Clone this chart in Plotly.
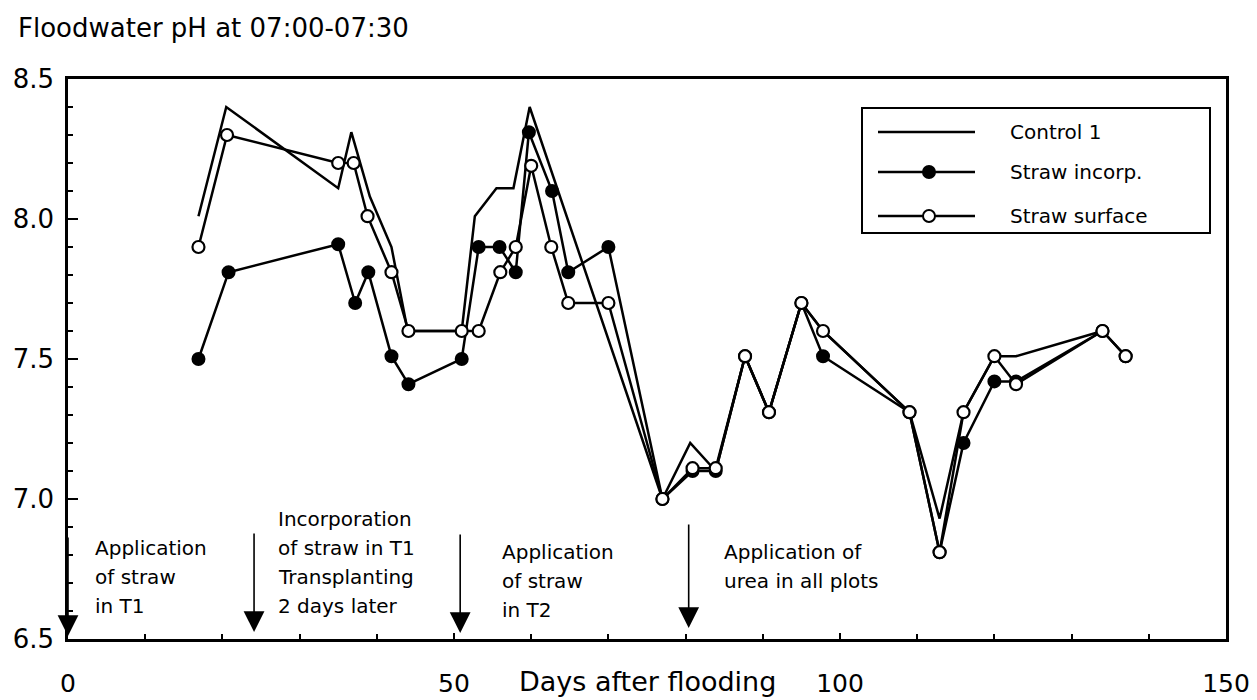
import plotly.graph_objects as go

# Floodwater pH series (day after flooding, pH)
control_days = [16.9, 20.5, 35.0, 36.7, 39.1, 41.9, 44.0, 51.0, 52.7, 55.5, 57.7, 59.8,
                77.0, 80.6, 83.9, 87.7, 90.8, 95.0, 97.8, 109.0, 112.9, 116.0, 120.0,
                122.8, 134.0]
control_ph = [8.01, 8.40, 8.11, 8.31, 8.08, 7.90, 7.60, 7.60, 8.01, 8.11, 8.11, 8.40,
              7.00, 7.20, 7.10, 7.51, 7.31, 7.70, 7.60, 7.31, 6.93, 7.31, 7.51,
              7.51, 7.60]

incorp_days = [16.9, 20.8, 35.0, 37.2, 38.9, 41.9, 44.1, 51.0, 53.2, 55.9, 58.0, 59.7,
               62.7, 64.8, 70.0, 77.0, 80.9, 83.9, 87.7, 90.8, 95.0, 97.8, 109.0,
               112.9, 116.0, 120.0, 122.8, 134.0, 137.0]
incorp_ph = [7.50, 7.81, 7.91, 7.70, 7.81, 7.51, 7.41, 7.50, 7.90, 7.90, 7.81, 8.31,
             8.10, 7.81, 7.90, 7.00, 7.10, 7.10, 7.51, 7.31, 7.70, 7.51, 7.31,
             6.81, 7.20, 7.42, 7.42, 7.60, 7.51]

surface_days = [16.9, 20.6, 35.0, 37.0, 38.8, 41.9, 44.1, 51.0, 53.2, 56.0, 58.0, 60.0,
                62.6, 64.8, 70.0, 77.0, 80.9, 83.9, 87.7, 90.8, 95.0, 97.8, 109.0,
                112.9, 116.0, 120.0, 122.8, 134.0, 137.0]
surface_ph = [7.90, 8.30, 8.20, 8.20, 8.01, 7.81, 7.60, 7.60, 7.60, 7.81, 7.90, 8.19,
              7.90, 7.70, 7.70, 7.00, 7.11, 7.11, 7.51, 7.31, 7.70, 7.60, 7.31,
              6.81, 7.31, 7.51, 7.41, 7.60, 7.51]

series_names = ["Control 1", "Straw incorp.", "Straw surface"]

x_ticks = [0, 50, 100, 150]
y_ticks = [6.5, 7.0, 7.5, 8.0, 8.5]

# Event arrows: day of event and the lines of text beside each
event_days = [0.0, 24.1, 50.8, 80.4]
event_texts = [
    ["Application", "of straw", "in T1"],
    ["Incorporation", "of straw in T1", "Transplanting", "2 days later"],
    ["Application", "of straw", "in T2"],
    ["Application of", "urea in all plots"],
]

FONT = "DejaVu Sans"
INK = "black"

fig = go.Figure()

fig.add_trace(go.Scatter(x=control_days, y=control_ph, mode="lines",
                         line=dict(color=INK, width=2.5), name=series_names[0],
                         showlegend=False))
fig.add_trace(go.Scatter(x=incorp_days, y=incorp_ph, mode="lines+markers",
                         line=dict(color=INK, width=2.5),
                         marker=dict(size=12, color=INK, line=dict(color=INK, width=2)),
                         name=series_names[1], showlegend=False))
fig.add_trace(go.Scatter(x=surface_days, y=surface_ph, mode="lines+markers",
                         line=dict(color=INK, width=2.5),
                         marker=dict(size=12, color="white", line=dict(color=INK, width=2.2)),
                         name=series_names[2], showlegend=False))

# Plot area geometry (pixels)
L, R, T, B = 68, 31, 79, 61
W, H = 1257, 700
pw, ph = W - L - R, H - T - B


def px_to_paper_x(px):
    return (px - L) / pw


def px_to_paper_y(py):
    return (H - B - py) / ph


annotations = []
shapes = []

# Event arrows and their descriptions
arrow_tips = [636, 632, 633, 628]
arrow_len = [100, 100, 100, 105]
text_left = [93, 276, 500, 722]
text_first = [548, 519, 552, 552]
line_gap = 29
for day, tip, ln, tl, tf, lines in zip(event_days, arrow_tips, arrow_len,
                                        text_left, text_first, event_texts):
    annotations.append(dict(
        x=day, y=6.5 + (H - B - tip) / 280.0, xref="x", yref="y",
        ax=0, ay=-ln, axref="pixel", ayref="pixel", text="",
        showarrow=True, arrowhead=2, arrowsize=2.6, arrowwidth=1.6,
        arrowcolor=INK, standoff=0))
    for i, t in enumerate(lines):
        annotations.append(dict(
            x=px_to_paper_x(tl), y=px_to_paper_y(tf + i * line_gap),
            xref="paper", yref="paper", text=t, showarrow=False,
            xanchor="left", yanchor="middle",
            font=dict(family=FONT, size=20, color=INK)))

# Axis title
annotations.append(dict(x=0.5, y=px_to_paper_y(681), xref="paper", yref="paper",
                        text="Days after flooding", showarrow=False,
                        xanchor="center", yanchor="middle",
                        font=dict(family=FONT, size=27, color=INK)))

# Legend box with long sample lines
lg_x0, lg_x1, lg_y0, lg_y1 = 862, 1210, 108, 233
shapes.append(dict(type="rect", xref="paper", yref="paper",
                   x0=px_to_paper_x(lg_x0), x1=px_to_paper_x(lg_x1),
                   y0=px_to_paper_y(lg_y1), y1=px_to_paper_y(lg_y0),
                   line=dict(color=INK, width=2), fillcolor="white", layer="above"))
row_y = [132, 172, 216]
marker_fill = [None, INK, "white"]
for name, ry, mf in zip(series_names, row_y, marker_fill):
    yy = px_to_paper_y(ry)
    shapes.append(dict(type="line", xref="paper", yref="paper",
                       x0=px_to_paper_x(878), x1=px_to_paper_x(975), y0=yy, y1=yy,
                       line=dict(color=INK, width=2.5), layer="above"))
    if mf is not None:
        shapes.append(dict(type="circle", xref="paper", yref="paper",
                           xsizemode="pixel", ysizemode="pixel",
                           xanchor=px_to_paper_x(929), yanchor=yy,
                           x0=-6, x1=6, y0=-6, y1=6,
                           line=dict(color=INK, width=2), fillcolor=mf, layer="above"))
    annotations.append(dict(x=px_to_paper_x(1008), y=yy, xref="paper", yref="paper",
                            text=name, showarrow=False, xanchor="left",
                            yanchor="middle",
                            font=dict(family=FONT, size=20, color=INK)))

fig.update_layout(
    width=W, height=H,
    margin=dict(l=L, r=R, t=T, b=B, autoexpand=False),
    paper_bgcolor="white", plot_bgcolor="white",
    title=dict(text="Floodwater pH at 07:00-07:30", x=18 / W, xanchor="left",
               xref="container", y=1 - 28 / H, yanchor="middle", yref="container",
               font=dict(family=FONT, size=26, color=INK)),
    xaxis=dict(range=[0, 150], tickvals=x_ticks, ticktext=[str(v) for v in x_ticks],
               ticks="inside", ticklen=6, tickwidth=2, tickcolor=INK,
               minor=dict(dtick=10, ticks="inside", ticklen=5, tickwidth=1.5,
                          tickcolor=INK, showgrid=False),
               showline=True, linecolor=INK, linewidth=3, mirror=True,
               showgrid=False, zeroline=False, ticklabelstandoff=20,
               tickfont=dict(family=FONT, size=25, color=INK)),
    yaxis=dict(range=[6.5, 8.5], tickvals=y_ticks, ticktext=[f"{v:.1f}" for v in y_ticks],
               ticks="inside", ticklen=10, tickwidth=2, tickcolor=INK,
               minor=dict(dtick=0.1, ticks="inside", ticklen=5, tickwidth=1.5,
                          tickcolor=INK, showgrid=False),
               showline=True, linecolor=INK, linewidth=2.5, mirror=True,
               showgrid=False, zeroline=False, ticklabelstandoff=6,
               tickfont=dict(family=FONT, size=26, color=INK)),
    annotations=annotations,
    shapes=shapes,
    showlegend=False,
)

fig.write_html("out.html")
